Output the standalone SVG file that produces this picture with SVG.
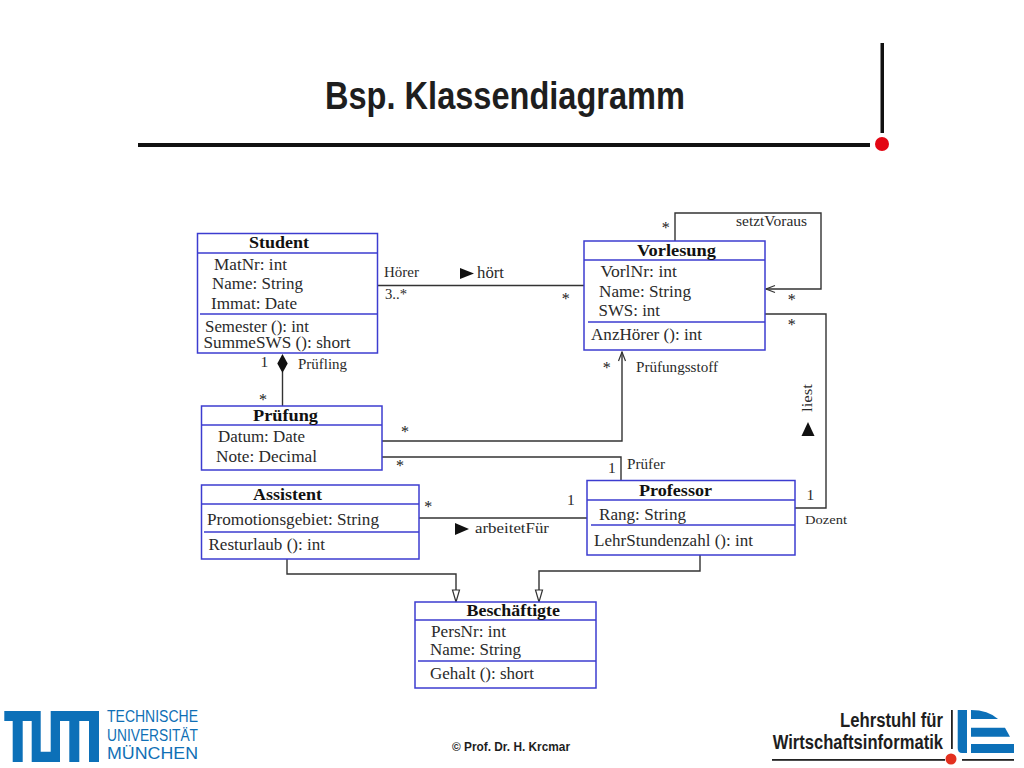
<svg xmlns="http://www.w3.org/2000/svg" width="1024" height="768" viewBox="0 0 1024 768">
<style>
text{font-family:"Liberation Serif","Times New Roman",serif;font-size:16.5px;fill:#2a2a2a}
.t{font-weight:bold;font-size:17px;fill:#111}
.s{font-size:14.5px}
.m{text-anchor:middle;font-size:16px;fill:#1a1a1a}
.b{fill:#fff;stroke:#3c3cd0;stroke-width:1.5}
.d{stroke:#3c3cd0;stroke-width:1.3}
.c{fill:none;stroke:#333;stroke-width:1.4}
.f{fill:#111}
.h{font-family:"Liberation Sans",Arial,sans-serif;font-weight:bold;fill:#1e1e1e}
.tum{font-family:"Liberation Sans",Arial,sans-serif;font-size:16px;fill:#0f6fb5}
.tb{fill:#0c70b8}
</style>
<defs>
<marker id="open" markerUnits="userSpaceOnUse" markerWidth="12" markerHeight="10" refX="11" refY="5" orient="auto"><path d="M2 1.500L11 5L2 8.500" fill="none" stroke="#333" stroke-width="1.2"/></marker>
<marker id="tri" markerUnits="userSpaceOnUse" markerWidth="14" markerHeight="12" refX="13" refY="6" orient="auto"><path d="M1 2.500L13 6L1 9.500Z" fill="#fff" stroke="#333" stroke-width="1.2"/></marker>
</defs>
<g id="header">
<text class="h" x="325" y="109" textLength="360" lengthAdjust="spacingAndGlyphs" style="font-size:38px">Bsp. Klassendiagramm</text>
<rect x="138" y="143" width="732" height="4" fill="#111"/>
<rect x="880.500" y="43" width="3.500" height="90" fill="#111"/>
<circle cx="882" cy="144" r="7" fill="#e30613"/>
</g>
<g id="connectors">
<path class="c" d="M377 285.500H584"/>
<path class="c" d="M675 241V213H821V289H766" marker-end="url(#open)"/>
<path class="c" d="M765 314H826V508H795"/>
<path class="c" d="M382 441H622V352" marker-end="url(#open)"/>
<path class="c" d="M382 457H621V480"/>
<path class="c" d="M282.500 372V406"/>
<path class="f" d="M282.500 354L287.700 363.500L282.500 373L277.300 363.500Z"/>
<path class="c" d="M419 518H587"/>
<path class="c" d="M287 559V574H456V602" marker-end="url(#tri)"/>
<path class="c" d="M700 555V571H539V602" marker-end="url(#tri)"/>
</g>
<g id="Student">
<rect class="b" x="197.500" y="233.500" width="180" height="119.500"/>
<path class="d" d="M198 253H378M200 314H377"/>
<text class="t" x="249" y="248.300" textLength="60" lengthAdjust="spacingAndGlyphs">Student</text>
<text x="214" y="269.700" textLength="73" lengthAdjust="spacingAndGlyphs">MatNr: int</text>
<text x="212" y="289" textLength="91" lengthAdjust="spacingAndGlyphs">Name: String</text>
<text x="211" y="309" textLength="86" lengthAdjust="spacingAndGlyphs">Immat: Date</text>
<text x="205" y="332" textLength="104" lengthAdjust="spacingAndGlyphs">Semester (): int</text>
<text x="203.500" y="348" textLength="147" lengthAdjust="spacingAndGlyphs">SummeSWS (): short</text>
</g>
<g id="Pruefung">
<rect class="b" x="201.500" y="406" width="180.500" height="64"/>
<path class="d" d="M202 425H382"/>
<text class="t" x="253" y="420.500" textLength="65" lengthAdjust="spacingAndGlyphs">Prüfung</text>
<text x="218" y="442" textLength="87" lengthAdjust="spacingAndGlyphs">Datum: Date</text>
<text x="216" y="462" textLength="101" lengthAdjust="spacingAndGlyphs">Note: Decimal</text>
</g>
<g id="Vorlesung">
<rect class="b" x="584" y="241" width="181" height="109"/>
<path class="d" d="M584 260H765M588 322H765"/>
<text class="t" x="637" y="256" textLength="79" lengthAdjust="spacingAndGlyphs">Vorlesung</text>
<text x="600.500" y="277" textLength="76.500" lengthAdjust="spacingAndGlyphs">VorlNr: int</text>
<text x="599" y="297" textLength="92" lengthAdjust="spacingAndGlyphs">Name: String</text>
<text x="598.500" y="316" textLength="61.500" lengthAdjust="spacingAndGlyphs">SWS: int</text>
<text x="591" y="340" textLength="111" lengthAdjust="spacingAndGlyphs">AnzHörer (): int</text>
</g>
<g id="Assistent">
<rect class="b" x="201.500" y="485" width="217.500" height="74"/>
<path class="d" d="M202 504H419M204 532H419"/>
<text class="t" x="253" y="500" textLength="69" lengthAdjust="spacingAndGlyphs">Assistent</text>
<text x="207" y="525" textLength="172" lengthAdjust="spacingAndGlyphs">Promotionsgebiet: String</text>
<text x="208.500" y="550" textLength="116.500" lengthAdjust="spacingAndGlyphs">Resturlaub (): int</text>
</g>
<g id="Professor">
<rect class="b" x="587" y="480.500" width="208" height="74.500"/>
<path class="d" d="M587 500H795M591 525H795"/>
<text class="t" x="639" y="495.700" textLength="73" lengthAdjust="spacingAndGlyphs">Professor</text>
<text x="599" y="520" textLength="87" lengthAdjust="spacingAndGlyphs">Rang: String</text>
<text x="594" y="545.500" textLength="159" lengthAdjust="spacingAndGlyphs">LehrStundenzahl (): int</text>
</g>
<g id="Beschaeftigte">
<rect class="b" x="415" y="602" width="181" height="86"/>
<path class="d" d="M415 620H596M418 661H596"/>
<text class="t" x="466.500" y="616" textLength="93.500" lengthAdjust="spacingAndGlyphs">Beschäftigte</text>
<text x="431" y="637" textLength="75" lengthAdjust="spacingAndGlyphs">PersNr: int</text>
<text x="430" y="655" textLength="91" lengthAdjust="spacingAndGlyphs">Name: String</text>
<text x="430" y="678.500" textLength="104" lengthAdjust="spacingAndGlyphs">Gehalt (): short</text>
</g>
<g id="labels">
<text class="s" x="384" y="277" textLength="35" lengthAdjust="spacingAndGlyphs">Hörer</text>
<text class="s" x="385" y="299" textLength="22" lengthAdjust="spacingAndGlyphs">3..*</text>
<path class="f" d="M460 268L474 273.500L460 279Z"/>
<text x="477" y="278" textLength="27" lengthAdjust="spacingAndGlyphs">hört</text>
<text class="s" x="260.500" y="367" style="font-size:15.500px">1</text>
<text class="s" x="298" y="369" textLength="49" lengthAdjust="spacingAndGlyphs">Prüfling</text>
<text class="m" x="263" y="405">*</text>
<text class="m" x="405" y="437">*</text>
<text class="m" x="400" y="471">*</text>
<text class="m" x="665.700" y="233">*</text>
<text class="m" x="565.700" y="304">*</text>
<text class="m" x="791.700" y="305">*</text>
<text class="m" x="791.700" y="330">*</text>
<text class="m" x="606.700" y="373">*</text>
<text class="m" x="428.300" y="512">*</text>
<text class="s" x="736" y="226" textLength="71" lengthAdjust="spacingAndGlyphs">setztVoraus</text>
<text class="s" x="636" y="371.700" textLength="82" lengthAdjust="spacingAndGlyphs">Prüfungsstoff</text>
<text class="s" transform="translate(811.700 412) rotate(-90)" textLength="28" lengthAdjust="spacingAndGlyphs">liest</text>
<path class="f" d="M808 422L814.500 436H801.500Z"/>
<text class="s" x="608" y="473" style="font-size:15.500px">1</text>
<text class="s" x="627" y="469" textLength="38" lengthAdjust="spacingAndGlyphs">Prüfer</text>
<path class="f" d="M455 523L469 529L455 535Z"/>
<text class="s" x="475" y="533" textLength="74" lengthAdjust="spacingAndGlyphs" style="font-size:15.500px">arbeitetFür</text>
<text class="s" x="567" y="505" style="font-size:15.500px">1</text>
<text class="s" x="806.500" y="500" style="font-size:15.500px">1</text>
<text class="s" x="805" y="524" textLength="42" lengthAdjust="spacingAndGlyphs" style="font-size:13px">Dozent</text>
</g>
<g id="footer">
<text class="h" x="452" y="751" textLength="118" lengthAdjust="spacingAndGlyphs" style="font-size:13px">© Prof. Dr. H. Krcmar</text>
</g>
<g id="tum-logo">
<path class="tb" d="M4.300 711H40.700V751.700H50.700V711H99V762H89V721H79.300V762H69.300V721H60V762H31.700V721H22.700V762H12.700V721H4.300Z"/>
<text class="tum" x="107" y="722" textLength="91" lengthAdjust="spacingAndGlyphs">TECHNISCHE</text>
<text class="tum" x="107" y="741" textLength="91" lengthAdjust="spacingAndGlyphs">UNIVERSITÄT</text>
<text class="tum" x="107" y="759" textLength="91" lengthAdjust="spacingAndGlyphs">MÜNCHEN</text>
</g>
<g id="wi-logo">
<text class="h" x="840" y="727" textLength="103" lengthAdjust="spacingAndGlyphs" style="font-size:20px">Lehrstuhl für</text>
<text class="h" x="772.700" y="749" textLength="170.300" lengthAdjust="spacingAndGlyphs" style="font-size:20px">Wirtschaftsinformatik</text>
<rect x="772" y="759" width="173" height="1.800" fill="#222"/>
<rect x="962" y="759" width="52" height="1.800" fill="#222"/>
<rect x="951" y="710" width="1.800" height="39" fill="#222"/>
<circle cx="951" cy="759" r="5.500" fill="#e3301f"/>
<path class="tb" d="M957.700 710H967V753H962Q957.700 753 957.700 748Z"/>
<path class="tb" d="M971 710Q988 710 998 719H971Z"/>
<path class="tb" d="M971 727.700H1005L1010 736.700H971Z"/>
<path class="tb" d="M971 744H1014V753H971Z"/>
</g>
</svg>
